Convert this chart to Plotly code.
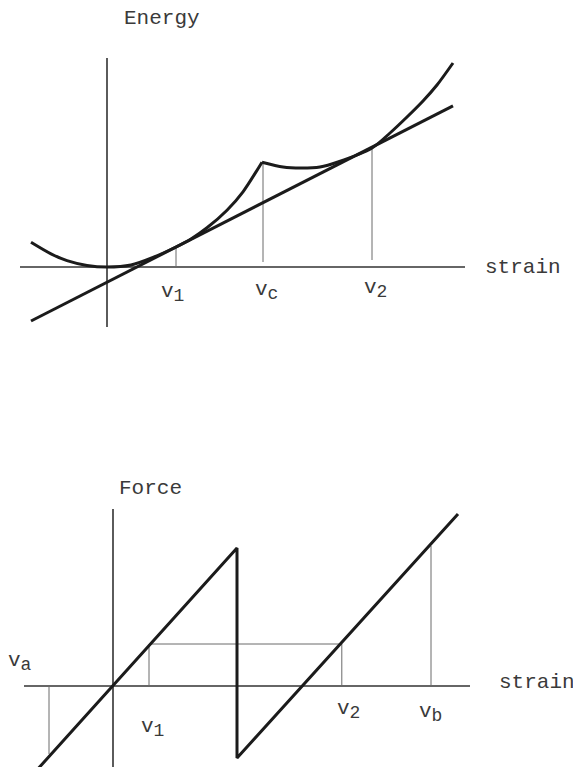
"""Energy and force versus strain: sketch of a two-phase (sawtooth) material."""

import plotly.graph_objects as go

# ---- top panel: energy vs strain ----
energy_left_strain = [-1.9, -1.4, -1.0, -0.5, 0.0, 0.6, 1.15, 1.725, 2.1, 2.5, 3.0, 3.4, 3.875]
energy_left = [0.62, 0.33, 0.16, 0.04, 0.0, 0.05, 0.24, 0.50, 0.70, 0.98, 1.42, 1.88, 2.62]
energy_right_strain = [3.875, 4.4, 4.85, 5.325, 5.775, 6.625, 7.075, 7.5, 7.9, 8.25, 8.65]
energy_right = [2.62, 2.5, 2.475, 2.5, 2.625, 2.975, 3.35, 3.75, 4.15, 4.55, 5.1]
tangent_strain = [-1.9, 8.65]
tangent_energy = [-1.35, 4.03]
# thin guides: (strain, bottom, top)
energy_guides = [(1.725, 0.0, 0.50), (3.9, 0.125, 2.6), (6.625, 0.175, 2.975)]
energy_axis_x = [-2.175, 8.95]
energy_axis_y = [-1.5, 5.225]

# ---- bottom panel: force vs strain ----
force_strain = [-1.925, 3.1, 3.1, 8.625]
force = [-2.125, 3.45, -1.8, 4.3]
va, v1, v2, vb = -1.6, 0.9, 5.72, 7.95
force_guides = [(va, 0.0, -1.7), (v1, 0.0, 1.05), (v2, 0.0, 1.05), (vb, 0.0, 3.5)]
maxwell_line = ([v1, v2], [1.05, 1.05])
force_axis_x = [-2.225, 8.925]
force_axis_y = [-2.3, 4.425]

INK = "#1b1b1b"
THIN = "#6a6a6a"
FONT = dict(family="Liberation Mono, Courier New, monospace", size=21, color="#3a3a3a")

fig = go.Figure()


def line(x, y, xa, ya, width, color):
    fig.add_trace(go.Scatter(x=x, y=y, xaxis=xa, yaxis=ya, mode="lines",
                             line=dict(color=color, width=width, shape="spline", smoothing=0.8),
                             hoverinfo="skip", showlegend=False))


def sub(letter):
    return f"v<sub><span style='font-size:18px'>{letter}</span></sub>"


# top panel
line(energy_axis_x, [0, 0], "x", "y", 1.6, "#333")
line([0, 0], energy_axis_y, "x", "y", 1.6, "#333")
for s, lo, hi in energy_guides:
    line([s, s], [lo, hi], "x", "y", 1, THIN)
line(tangent_strain, tangent_energy, "x", "y", 3, INK)
line(energy_left_strain, energy_left, "x", "y", 3, INK)
line(energy_right_strain, energy_right, "x", "y", 3, INK)

# bottom panel
line(force_axis_x, [0, 0], "x2", "y2", 1.6, "#333")
line([0, 0], force_axis_y, "x2", "y2", 1.6, "#333")
for s, lo, hi in force_guides:
    line([s, s], [lo, hi], "x2", "y2", 1, THIN)
line(maxwell_line[0], maxwell_line[1], "x2", "y2", 1, THIN)
fig.add_trace(go.Scatter(x=force_strain, y=force, xaxis="x2", yaxis="y2", mode="lines",
                         line=dict(color=INK, width=3), hoverinfo="skip", showlegend=False))

labels = [
    ("Energy", 1.375, 6.22, "x", "y", "center"),
    ("strain", 9.4, 0.0, "x", "y", "left"),
    (sub("1"), 1.625, -0.65, "x", "y", "center"),
    (sub("c"), 3.975, -0.6, "x", "y", "center"),
    (sub("2"), 6.7, -0.55, "x", "y", "center"),
    ("Force", 0.925, 4.95, "x2", "y2", "center"),
    ("strain", 9.6, 0.1, "x2", "y2", "left"),
    (sub("a"), -2.325, 0.6, "x2", "y2", "center"),
    (sub("1"), 0.975, -1.05, "x2", "y2", "center"),
    (sub("2"), 5.875, -0.6, "x2", "y2", "center"),
    (sub("b"), 7.925, -0.675, "x2", "y2", "center"),
]
for text, x, y, xr, yr, anchor in labels:
    fig.add_annotation(text=text, x=x, y=y, xref=xr, yref=yr, showarrow=False,
                       xanchor=anchor, yanchor="middle", font=FONT)

# the page body adds an 8px margin, so the figure is smaller and ranges shifted
hidden = dict(visible=False, fixedrange=True)
fig.update_layout(
    width=573, height=759,
    margin=dict(l=0, r=0, t=0, b=0),
    paper_bgcolor="white", plot_bgcolor="white",
    xaxis=dict(domain=[0, 1], range=[-2.475, 11.85], anchor="y", **hidden),
    yaxis=dict(domain=[0.50988, 1], range=[-2.825, 6.475], anchor="x", **hidden),
    xaxis2=dict(domain=[0, 1], range=[-2.625, 11.7], anchor="y2", **hidden),
    yaxis2=dict(domain=[0, 0.50988], range=[-2.025, 7.65], anchor="x2", **hidden),
)

fig.write_html("out.html")
